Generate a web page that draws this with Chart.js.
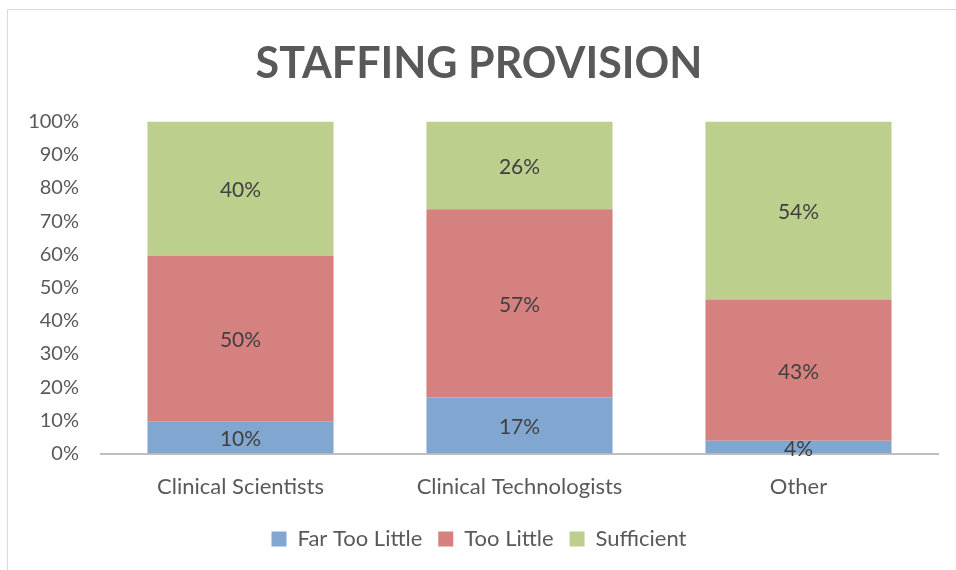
<!DOCTYPE html>
<html><head><meta charset="utf-8">
<script src="https://cdn.jsdelivr.net/npm/chart.js@4/dist/chart.umd.min.js"></script>
<style>
html,body{margin:0;padding:0;background:#fff;}
#wrap{position:relative;width:956px;height:570px;overflow:hidden;}
#frame{position:absolute;left:7px;top:9px;width:1000px;height:600px;border-left:1px solid #d9d9d9;border-top:1px solid #d9d9d9;}
canvas{position:absolute;left:0;top:0;}
</style></head>
<body><div id="wrap"><div id="frame"></div><canvas id="c" width="956" height="570"></canvas></div>
<script>
const categories = ["Clinical Scientists", "Clinical Technologists", "Other"];
const farTooLittle = [9.6, 16.9, 3.9];
const tooLittle = [50.0, 56.7, 42.5];
const sufficient = [40.4, 26.4, 53.6];
const yTicks = [0,10,20,30,40,50,60,70,80,90,100];

const FONT = "Lato, 'Open Sans', sans-serif";
const labelPlugin = {
  id:'barLabels',
  afterDatasetsDraw(chart){
    const ctx = chart.ctx;
    ctx.save();
    ctx.font = "21px " + FONT;
    ctx.fillStyle = "#404040";
    ctx.textAlign = "center";
    ctx.textBaseline = "middle";
    chart.data.datasets.forEach((ds,i)=>{
      const meta = chart.getDatasetMeta(i);
      meta.data.forEach((bar,j)=>{
        const v = ds.data[j];
        const y = (bar.y + bar.base)/2;
        ctx.fillText(Math.round(v)+"%", bar.x, y+2);
      });
    });
    ctx.restore();
  }
};

new Chart(document.getElementById('c'), {
  type:'bar',
  data:{
    labels: categories,
    datasets:[
      {label:"Far Too Little", data:farTooLittle, backgroundColor:"#81A6D0"},
      {label:"Too Little", data:tooLittle, backgroundColor:"#D5817F"},
      {label:"Sufficient", data:sufficient, backgroundColor:"#BCCF8C"}
    ]
  },
  options:{
    responsive:false,
    animation:false,
    layout:{padding:{left:20,right:18,top:0,bottom:10}},
    datasets:{bar:{categoryPercentage:1, barPercentage:0.667}},
    plugins:{
      title:{display:true, text:"STAFFING PROVISION", color:"#595959",
        font:{family:FONT, size:43, weight:'bold'}, padding:{top:38,bottom:32}},
      legend:{position:'bottom', labels:{color:"#595959", boxWidth:15, boxHeight:15,
        font:{family:FONT, size:22}, padding:16}},
      tooltip:{enabled:false}
    },
    scales:{
      x:{stacked:true, grid:{display:false}, border:{display:true,color:"#BFBFBF",width:2},
        ticks:{color:"#595959", font:{family:FONT,size:22}, padding:12}},
      y:{stacked:true, min:0, max:100, grid:{display:false}, border:{display:false},
        afterFit(s){s.width=81;},
        afterBuildTicks(s){s.ticks = yTicks.map(v=>({value:v}));},
        ticks:{color:"#595959", font:{family:FONT,size:20}, padding:14, callback:v=>v+"%"}}
    }
  },
  plugins:[labelPlugin]
});
</script></body></html>
